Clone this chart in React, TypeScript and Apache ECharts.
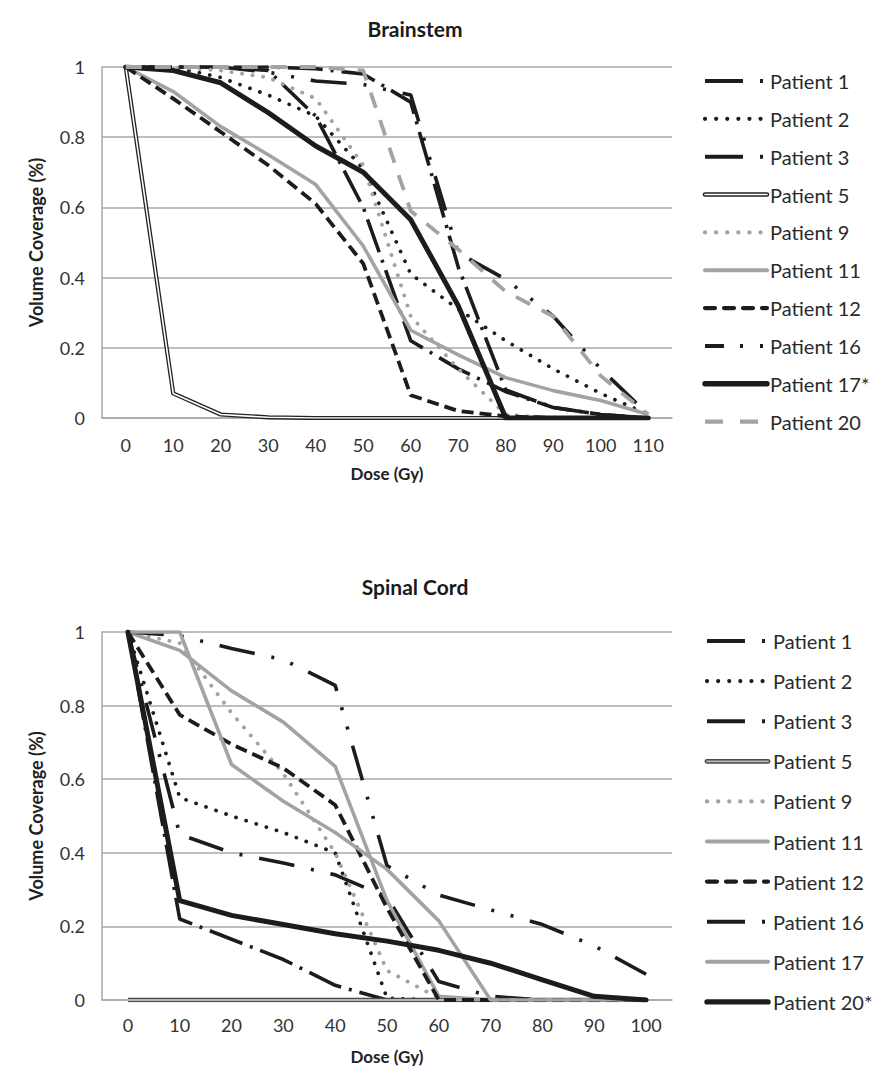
import React, { useEffect, useRef } from 'react';
import * as echarts from 'echarts';

// ---------- Data ----------
const brainDose = ['0', '10', '20', '30', '40', '50', '60', '70', '80', '90', '100', '110'];
const brainPatients = ['Patient 1', 'Patient 2', 'Patient 3', 'Patient 5', 'Patient 9', 'Patient 11', 'Patient 12', 'Patient 16', 'Patient 17*', 'Patient 20'];
const brainP1 = [1, 1, 1, 0.99, 0.86, 0.6, 0.22, 0.14, 0.075, 0.03, 0.01, 0];
const brainP2 = [1, 1, 0.97, 0.92, 0.86, 0.71, 0.41, 0.31, 0.22, 0.14, 0.07, 0.01];
const brainP3 = [1, 1, 1, 1, 0.995, 0.98, 0.9, 0.43, 0.08, 0.03, 0.01, 0];
const brainP5 = [1, 0.07, 0.01, 0.002, 0, 0, 0, 0, 0, 0, 0, 0];
const brainP9 = [1, 1, 0.99, 0.97, 0.91, 0.72, 0.29, 0.14, 0.01, 0, 0, 0];
const brainP11 = [1, 0.93, 0.83, 0.75, 0.665, 0.49, 0.25, 0.18, 0.115, 0.078, 0.05, 0.01];
const brainP12 = [1, 0.91, 0.815, 0.72, 0.61, 0.44, 0.065, 0.02, 0.005, 0, 0, 0];
const brainP16 = [1, 1, 1, 0.985, 0.96, 0.95, 0.92, 0.47, 0.395, 0.29, 0.14, 0.01];
const brainP17 = [1, 0.99, 0.955, 0.87, 0.775, 0.7, 0.565, 0.32, 0, 0, 0, 0];
const brainP20 = [1, 1, 1, 1, 1, 0.99, 0.59, 0.48, 0.36, 0.29, 0.12, 0.01];
const brainValues = [brainP1, brainP2, brainP3, brainP5, brainP9, brainP11, brainP12, brainP16, brainP17, brainP20];

const cordDose = ['0', '10', '20', '30', '40', '50', '60', '70', '80', '90', '100'];
const cordPatients = ['Patient 1', 'Patient 2', 'Patient 3', 'Patient 5', 'Patient 9', 'Patient 11', 'Patient 12', 'Patient 16', 'Patient 17', 'Patient 20*'];
const cordP1 = [1, 0.45, 0.4, 0.372, 0.34, 0.28, 0.05, 0.01, 0, 0, 0];
const cordP2 = [1, 0.55, 0.5, 0.455, 0.4, 0.005, 0, 0, 0, 0, 0];
const cordP3 = [1, 0.22, 0.165, 0.11, 0.04, 0, 0, 0, 0, 0, 0];
const cordP5 = [0, 0, 0, 0, 0, 0, 0, 0, 0, 0, 0];
const cordP9 = [1, 0.97, 0.78, 0.615, 0.4, 0.08, 0.005, 0, 0, 0, 0];
const cordP11 = [1, 0.95, 0.84, 0.755, 0.635, 0.27, 0.01, 0, 0, 0, 0];
const cordP12 = [1, 0.775, 0.695, 0.63, 0.53, 0.25, 0, 0, 0, 0, 0];
const cordP16 = [1, 0.99, 0.955, 0.925, 0.855, 0.365, 0.285, 0.245, 0.205, 0.147, 0.07];
const cordP17 = [1, 1, 0.64, 0.54, 0.455, 0.355, 0.215, 0, 0, 0, 0];
const cordP20 = [1, 0.27, 0.23, 0.205, 0.18, 0.16, 0.135, 0.1, 0.055, 0.01, 0];
const cordValues = [cordP1, cordP2, cordP3, cordP5, cordP9, cordP11, cordP12, cordP16, cordP17, cordP20];

const yTicks = [0, 0.2, 0.4, 0.6, 0.8, 1];

// ---------- Styles ----------
const FONT = 'Lato, "Open Sans", sans-serif';
const BLACK = '#1c1c1c';
const GRAY = '#a3a3a3';
const GRID = '#a9a9a9';

type LineDef = {
  color: string;
  width: number;
  dash?: number[];
  cap?: 'butt' | 'round';
  inner?: { color: string; width: number };
  legendDash?: number[];
  legendCap?: 'butt' | 'round';
};

const dashDot: LineDef = { color: BLACK, width: 3.6, dash: [35, 8, 3, 8], legendDash: [38, 17, 3, 40] };
const dashDotWide: LineDef = { color: BLACK, width: 3.6, dash: [36, 17, 3, 17], legendDash: [38, 17, 3, 40] };
const dotted: LineDef = { color: BLACK, width: 3.7, dash: [0.1, 10.5], cap: 'round', legendDash: [0.1, 11], legendCap: 'round' };
const grayDotted: LineDef = { color: GRAY, width: 3.9, dash: [0.1, 10.5], cap: 'round', legendDash: [0.1, 11], legendCap: 'round' };
const graySolid: LineDef = { color: GRAY, width: 3.6, legendCap: 'round' };
const dashed: LineDef = { color: BLACK, width: 3.8, dash: [12, 6], legendDash: [10, 9], legendCap: 'round' };
const thick: LineDef = { color: BLACK, width: 5, cap: 'round', legendCap: 'round' };
const grayDash: LineDef = { color: GRAY, width: 3.8, dash: [16, 13], legendDash: [18, 17] };

const brainStyles: LineDef[] = [
  dashDot,
  dotted,
  dashDot,
  { color: '#222222', width: 4.2, inner: { color: '#ffffff', width: 1.6 }, legendCap: 'round' },
  grayDotted,
  graySolid,
  dashed,
  { color: BLACK, width: 3.6, dash: [36, 17, 3, 17, 3, 17], legendDash: [19, 16, 3, 17, 3, 30] },
  thick,
  grayDash,
];

const cordStyles: LineDef[] = [
  dashDotWide,
  dotted,
  dashDot,
  { color: '#4a4a4a', width: 4.4, inner: { color: '#b8b8b8', width: 1.8 }, legendCap: 'round' },
  grayDotted,
  graySolid,
  dashed,
  { color: BLACK, width: 3.6, dash: [36, 17, 3, 17, 3, 17], legendDash: [38, 17, 3, 40] },
  graySolid,
  thick,
];

function buildSeries(names: string[], values: number[][], styles: LineDef[], idx: number) {
  const out: any[] = [];
  names.forEach((name, i) => {
    const s = styles[i];
    out.push({
      type: 'line',
      name,
      xAxisIndex: idx,
      yAxisIndex: idx,
      data: values[i],
      symbol: 'none',
      silent: true,
      lineStyle: { color: s.color, width: s.width, type: s.dash ?? 'solid', cap: s.cap ?? 'butt', join: 'round' },
    });
    if (s.inner) {
      out.push({
        type: 'line',
        name: name + ' (inner)',
        xAxisIndex: idx,
        yAxisIndex: idx,
        data: values[i],
        symbol: 'none',
        silent: true,
        lineStyle: { color: s.inner.color, width: s.inner.width, type: 'solid', join: 'round' },
      });
    }
  });
  return out;
}

function buildLegend(names: string[], styles: LineDef[], y0: number, step: number, x1: number, x2: number, tx: number) {
  const els: any[] = [];
  names.forEach((name, i) => {
    const s = styles[i];
    const y = y0 + i * step;
    els.push({
      type: 'line',
      silent: true,
      shape: { x1, y1: y, x2, y2: y },
      style: { stroke: s.color, lineWidth: s.width + 0.4, lineDash: s.legendDash ?? null, lineCap: s.legendCap ?? 'butt' },
    });
    if (s.inner) {
      els.push({
        type: 'line',
        silent: true,
        shape: { x1, y1: y, x2, y2: y },
        style: { stroke: s.inner.color, lineWidth: s.inner.width, lineCap: 'round' },
      });
    }
    els.push({
      type: 'text',
      silent: true,
      x: tx,
      y,
      style: { text: name, fontSize: 20, fontFamily: FONT, fill: '#2a2a2a', verticalAlign: 'middle', align: 'left' },
    });
  });
  return els;
}

const axisText = { fontFamily: FONT, color: '#333333' };

function xAxisDef(data: string[], idx: number, labelMargin: number, nameGap: number) {
  return {
    type: 'category',
    gridIndex: idx,
    data,
    boundaryGap: true,
    axisTick: { show: false },
    axisLine: { show: true, lineStyle: { color: GRID, width: 1.5 } },
    axisLabel: { ...axisText, fontSize: 18, margin: labelMargin, interval: 0 },
    splitLine: { show: false },
    name: 'Dose (Gy)',
    nameLocation: 'middle',
    nameGap,
    nameTextStyle: { fontFamily: FONT, fontSize: 17, fontWeight: 'bold', color: '#222222' },
  };
}

function yAxisDef(idx: number) {
  return {
    type: 'value',
    gridIndex: idx,
    min: yTicks[0],
    max: yTicks[yTicks.length - 1],
    interval: 0.2,
    axisTick: { show: false },
    axisLine: { show: true, lineStyle: { color: GRID, width: 1.5 } },
    axisLabel: { ...axisText, fontSize: 18, margin: 17 },
    splitLine: { show: true, lineStyle: { color: GRID, width: 1.5 } },
    name: 'Volume Coverage (%)',
    nameLocation: 'middle',
    nameGap: 57,
    nameRotate: 90,
    nameTextStyle: { fontFamily: FONT, fontSize: 18, fontWeight: 'bold', color: '#222222' },
  };
}

const option: any = {
  animation: false,
  backgroundColor: '#ffffff',
  title: [
    { text: 'Brainstem', left: 410, top: 13, textAlign: 'center', textStyle: { fontFamily: FONT, fontSize: 21, fontWeight: 'bold', color: '#1a1a1a' } },
    { text: 'Spinal Cord', left: 410, top: 571, textAlign: 'center', textStyle: { fontFamily: FONT, fontSize: 21, fontWeight: 'bold', color: '#1a1a1a' } },
  ],
  grid: [
    { left: 102, width: 570, top: 67, height: 351 },
    { left: 102, width: 570, top: 632, height: 368 },
  ],
  xAxis: [xAxisDef(brainDose, 0, 18, 47), xAxisDef(cordDose, 1, 16, 48)],
  yAxis: [yAxisDef(0), yAxisDef(1)],
  series: [...buildSeries(brainPatients, brainValues, brainStyles, 0), ...buildSeries(cordPatients, cordValues, cordStyles, 1)],
  graphic: [
    ...buildLegend(brainPatients, brainStyles, 81, 37.85, 705, 767, 770),
    ...buildLegend(cordPatients, cordStyles, 641, 40.1, 707, 768, 773),
  ],
};

export default function App() {
  const ref = useRef<HTMLDivElement>(null);
  useEffect(() => {
    document.body.style.margin = '0';
    const chart = echarts.init(ref.current as HTMLDivElement, undefined, { renderer: 'svg' });
    chart.setOption(option);
    return () => {
      chart.dispose();
    };
  }, []);
  return <div ref={ref} style={{ width: 890, height: 1073 }} />;
}
